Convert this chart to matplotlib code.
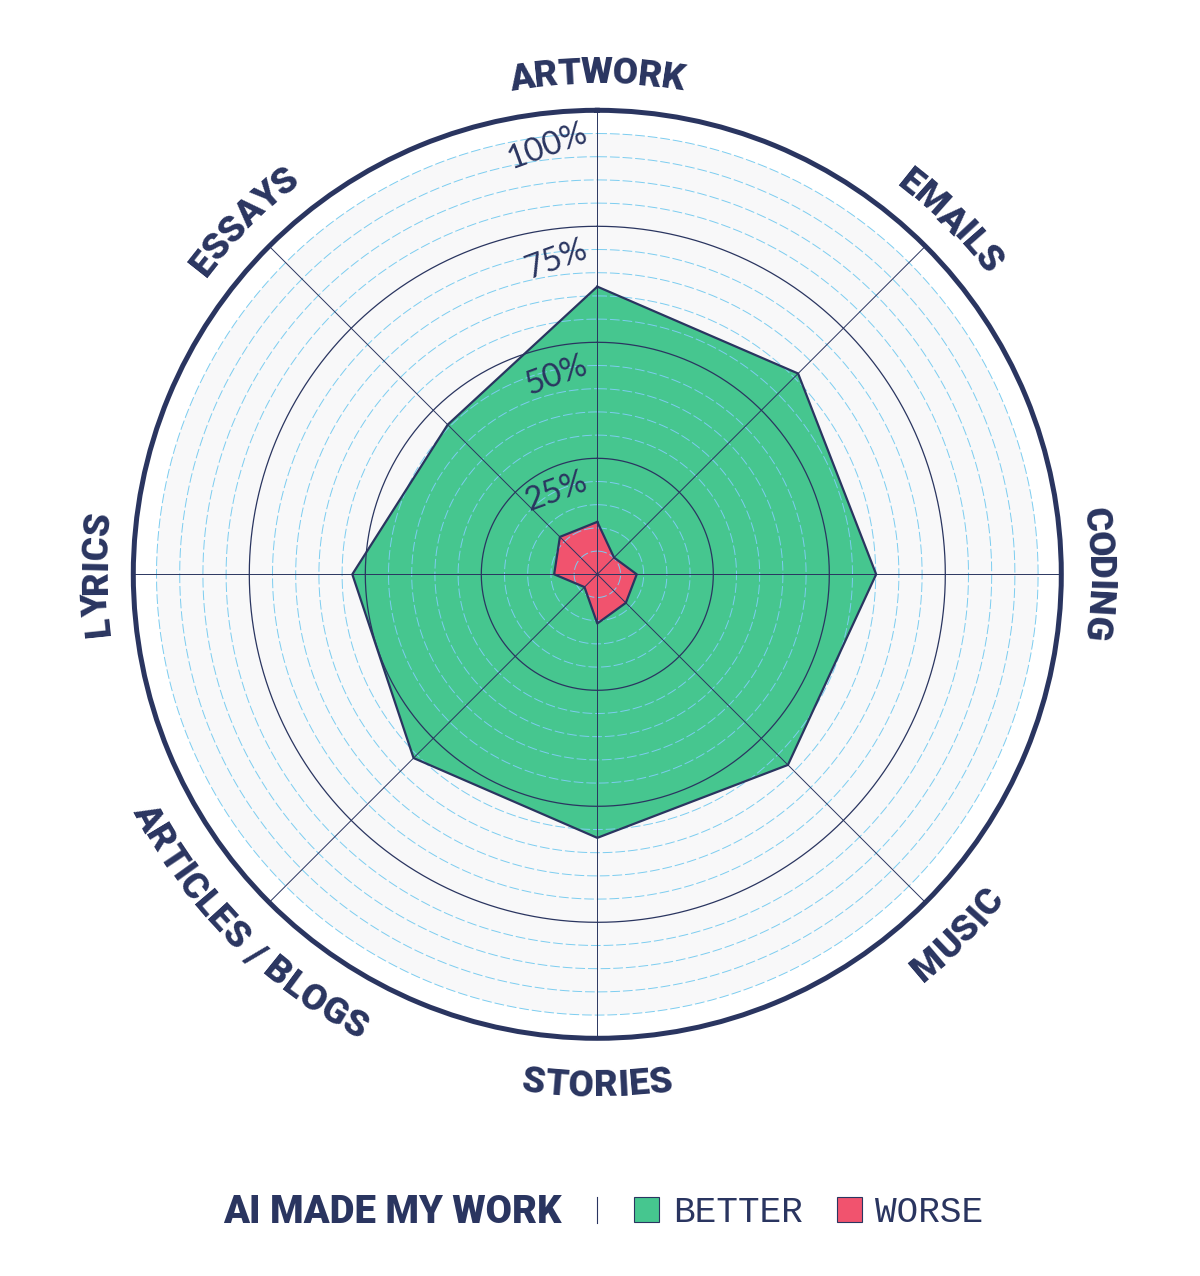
import numpy as np
import matplotlib
matplotlib.use("Agg")
import matplotlib.pyplot as plt
from matplotlib.patches import Rectangle
from matplotlib.lines import Line2D
from matplotlib.font_manager import FontProperties
from matplotlib.transforms import offset_copy


# ---------------------------------------------------------
# Dados
# ---------------------------------------------------------
CATEGORIES = ["ARTWORK", "EMAILS", "CODING", "MUSIC", "STORIES",
              "ARTICLES / BLOGS", "LYRICS", "ESSAYS"]
BETTER = [62.0, 61.2, 60.1, 58.1, 56.8, 56.0, 52.8, 45.6]
WORSE = [11.3, 5.1, 8.5, 8.7, 10.6, 3.9, 9.3, 11.4]

RADIAL_TICKS = [25, 50, 75, 100]
RADIAL_LABELS = ["25%", "50%", "75%", "100%"]

LEGEND_TITLE = "AI MADE MY WORK"
LEGEND_LABELS = ["BETTER", "WORSE"]

# ---------------------------------------------------------
# Estilo
# ---------------------------------------------------------
NAVY = "#2a3560"
GREEN = "#46c68f"
RED = "#f1536e"
GREY = "#f8f8f9"
BLUE = "#7ccdf0"

W_PX, H_PX = 1200, 1276
CX, CY = 597.3, 574.3      # centro do radar (px, a partir do canto superior esquerdo)
R_PX = 464                 # raio correspondente a 100%

cat_font = FontProperties(family="Roboto", weight="black", size=26.5)
tick_font = FontProperties(family="Lato", weight="normal", size=23.5)
title_font = FontProperties(family="Roboto", weight="black", size=27.5)
legend_font = FontProperties(family="Liberation Mono", size=26)


def px_to_r(px):
    return px / R_PX * 100


def curved_label(ax, renderer, text, phi_deg):
    """Escreve o texto letra a letra ao longo de um arco."""
    top = phi_deg <= 90 or phi_deg >= 270

    def width(s):
        return renderer.get_text_width_height_descent(s, cat_font, ismath=False)[0]

    total = width(text)
    r_mid = 506
    for i, ch in enumerate(text):
        if ch == " ":
            continue
        c = width(text[:i + 1]) - width(ch) / 2 - total / 2
        dphi = np.degrees(c / r_mid)
        if top:
            phi = phi_deg + dphi
            rot = -phi
            r_base = 491
        else:
            phi = phi_deg - dphi
            rot = 180 - phi
            r_base = 522
        ax.text(np.radians(phi), px_to_r(r_base), ch, rotation=rot,
                rotation_mode="anchor", ha="center", va="baseline",
                fontproperties=cat_font, color=NAVY, clip_on=False)


def main():
    fig = plt.figure(figsize=(W_PX / 100, H_PX / 100), dpi=100)
    ax = fig.add_axes([(CX - R_PX) / W_PX, (H_PX - CY - R_PX) / H_PX,
                       2 * R_PX / W_PX, 2 * R_PX / H_PX], projection="polar")
    ax.set_theta_zero_location("N")
    ax.set_theta_direction(-1)
    ax.set_ylim(0, 100)
    ax.set_xticks([])
    ax.set_yticks([])
    ax.grid(False)
    ax.spines["polar"].set_color(NAVY)
    ax.spines["polar"].set_linewidth(3.6)

    n = len(CATEGORIES)
    angles = np.arange(n) * 2 * np.pi / n
    ang_c = np.append(angles, angles[0])
    better_c = np.append(BETTER, BETTER[0])
    worse_c = np.append(WORSE, WORSE[0])

    theta_full = np.linspace(0, 2 * np.pi, 721)
    ax.fill(theta_full, np.full_like(theta_full, 95), color=GREY, lw=0, zorder=0)

    ax.fill(ang_c, better_c, color=GREEN, lw=0, zorder=1)
    ax.fill(ang_c, worse_c, color=RED, lw=0, zorder=1)

    # grelha por cima das áreas
    for r in range(5, 100, 5):
        if r % 25 == 0:
            ax.plot(theta_full, np.full_like(theta_full, r), color=NAVY, lw=0.9, zorder=2)
        else:
            ax.plot(theta_full, np.full_like(theta_full, r), color=BLUE, lw=0.7,
                    ls=(0, (10, 3)), zorder=2)
    for a in angles:
        ax.plot([a, a], [0, 100], color=NAVY, lw=0.7, zorder=2)

    ax.plot(ang_c, better_c, color=NAVY, lw=1.6, zorder=4)
    ax.plot(ang_c, worse_c, color=NAVY, lw=1.6, zorder=4)

    # etiquetas radiais
    tr = offset_copy(ax.transData, fig=fig, x=-6, y=-8, units="dots")
    for v, lab in zip(RADIAL_TICKS, RADIAL_LABELS):
        ax.text(0, v, lab, transform=tr, ha="right", va="top", rotation=20,
                fontproperties=tick_font, color=NAVY, zorder=5)

    # categorias em arco
    renderer = fig.canvas.get_renderer()
    for cat, a in zip(CATEGORIES, angles):
        curved_label(ax, renderer, cat, np.degrees(a))

    # legenda
    def fy(y):
        return (H_PX - y) / H_PX

    fig.text(223 / W_PX, fy(1223.3), LEGEND_TITLE, ha="left", va="baseline",
             fontproperties=title_font, color=NAVY)
    fig.add_artist(Line2D([596.7 / W_PX] * 2, [fy(1197), fy(1223)], color=NAVY, lw=0.8))

    for x_sq, x_txt, col, lab in zip([634, 836.7], [673, 875], [GREEN, RED], LEGEND_LABELS):
        fig.add_artist(Rectangle((x_sq / W_PX, fy(1222.3)), 25 / W_PX, 25 / H_PX,
                                 facecolor=col, edgecolor=NAVY, lw=0.8,
                                 transform=fig.transFigure))
        fig.text(x_txt / W_PX, fy(1222), lab, ha="left", va="baseline",
                 fontproperties=legend_font, color=NAVY)

    fig.savefig("out.png", dpi=100, facecolor="white")
    plt.close(fig)


if __name__ == "__main__":
    main()
